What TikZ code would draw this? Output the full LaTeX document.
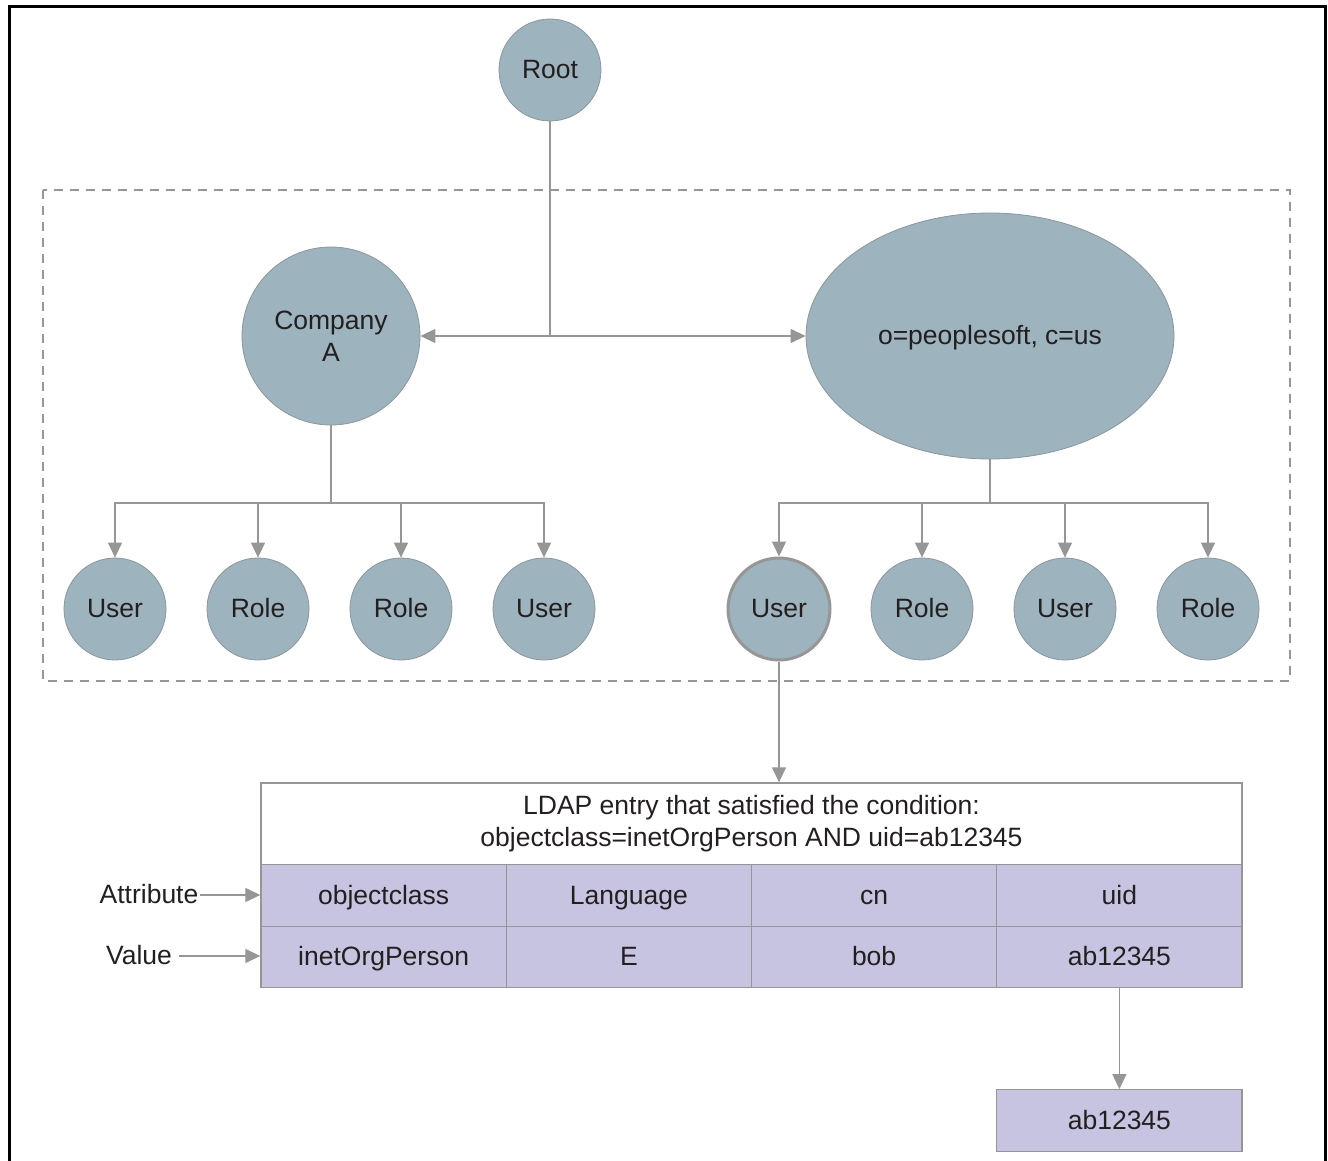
\documentclass[tikz,border=0pt]{standalone}
\usepackage{fontspec}
\setmainfont{Liberation Sans}
\usetikzlibrary{arrows.meta,shapes.geometric}
\definecolor{nodefill}{RGB}{157,179,189}
\definecolor{nodeline}{RGB}{140,150,155}
\definecolor{cellfill}{RGB}{198,196,225}
\definecolor{wire}{RGB}{150,150,150}
\definecolor{ink}{RGB}{35,31,32}
\tikzset{
  txt/.style={font=\fontsize{26.5pt}{32pt}\selectfont, text=ink},
  bubble/.style={txt, circle, fill=nodefill, draw=nodeline, line width=0.8pt,
    minimum size=102pt, inner sep=0pt},
  leaf/.style={bubble, text height=21pt, text depth=4pt},
  picked/.style={draw=wire, line width=3pt},
  cell/.style={txt, rectangle, fill=cellfill, draw=wire, line width=1.3pt,
    minimum width=245.25pt, minimum height=61.5pt, inner sep=0pt,
    text height=21pt, text depth=4pt},
  wirel/.style={draw=wire, line width=1.3pt},
  arr/.style={wirel, -{Triangle[length=15pt,width=14pt]}}
}
\begin{document}
\begin{tikzpicture}[x=1pt,y=-1pt]
\useasboundingbox (0,0) rectangle (1328,1161);
% open outer frame
\draw[line width=3pt] (9,1170) -- (9,7) -- (1325,7) -- (1325,1170);
% dashed region holding the directory tree
\draw[wire, line width=1.3pt, dash pattern=on 9pt off 7pt] (43,190) rectangle (1290,681);

% tree nodes
\node[bubble] (root) at (550,70) {Root};
\node[bubble, minimum size=178pt, align=center] (compA) at (331,336) {Company\\A};
\node[txt, ellipse, fill=nodefill, draw=nodeline, line width=0.8pt,
  minimum width=368pt, minimum height=246pt, inner sep=0pt,
  text height=21pt, text depth=4pt] (org) at (990,336) {o=peoplesoft, c=us};

\coordinate (hub) at (550,336);
\draw[wirel] (root) -- (hub);
\draw[arr] (hub) -- (compA);
\draw[arr] (hub) -- (org);

% leaves under Company A
\node[leaf] (la) at (115,609) {User};
\node[leaf] (lb) at (258,609) {Role};
\node[leaf] (lc) at (401,609) {Role};
\node[leaf] (ld) at (544,609) {User};
\coordinate (lfork) at (331,503);
\draw[wirel] (compA) -- (lfork);
\foreach \n in {la,lb,lc,ld} \draw[arr] (lfork) -| (\n);

% leaves under o=peoplesoft
\node[leaf, picked] (ra) at (779,609) {User};
\node[leaf] (rb) at (922,609) {Role};
\node[leaf] (rc) at (1065,609) {User};
\node[leaf] (rd) at (1208,609) {Role};
\coordinate (rfork) at (990,503);
\draw[wirel] (org) -- (rfork);
\foreach \n in {ra,rb,rc,rd} \draw[arr] (rfork) -| (\n);

% LDAP entry table
\node[txt, rectangle, draw=wire, fill=white, line width=1.3pt, minimum width=981pt,
  minimum height=82pt, inner sep=0pt, align=center] (head) at (751.5,824)
  {LDAP entry that satisfied the condition:\\objectclass=inetOrgPerson AND uid=ab12345};
\node[cell] (a1) at (383.6,895.5) {objectclass};
\node[cell] (a2) at (628.9,895.5) {Language};
\node[cell] (a3) at (874.1,895.5) {cn};
\node[cell] (a4) at (1119.4,895.5) {uid};
\node[cell] (v1) at (383.6,957) {inetOrgPerson};
\node[cell] (v2) at (628.9,957) {E};
\node[cell] (v3) at (874.1,957) {bob};
\node[cell] (v4) at (1119.4,957) {ab12345};

\draw[arr] (ra) -- (ra |- head.north);

% row labels
\node[txt, inner sep=1pt, text height=21pt, text depth=4pt] (attr) at (149,895) {Attribute};
\node[txt, inner sep=1pt, text height=21pt, text depth=4pt] (val) at (139,956) {Value};
\draw[arr] (attr.east) -- (attr.east -| a1.west);
\draw[arr] ([xshift=6pt]val.east) -- (val.east -| v1.west);

% extracted uid value
\node[cell] (res) at (1119.4,1120.5) {ab12345};
\draw[arr] (v4) -- (res);
\end{tikzpicture}
\end{document}
